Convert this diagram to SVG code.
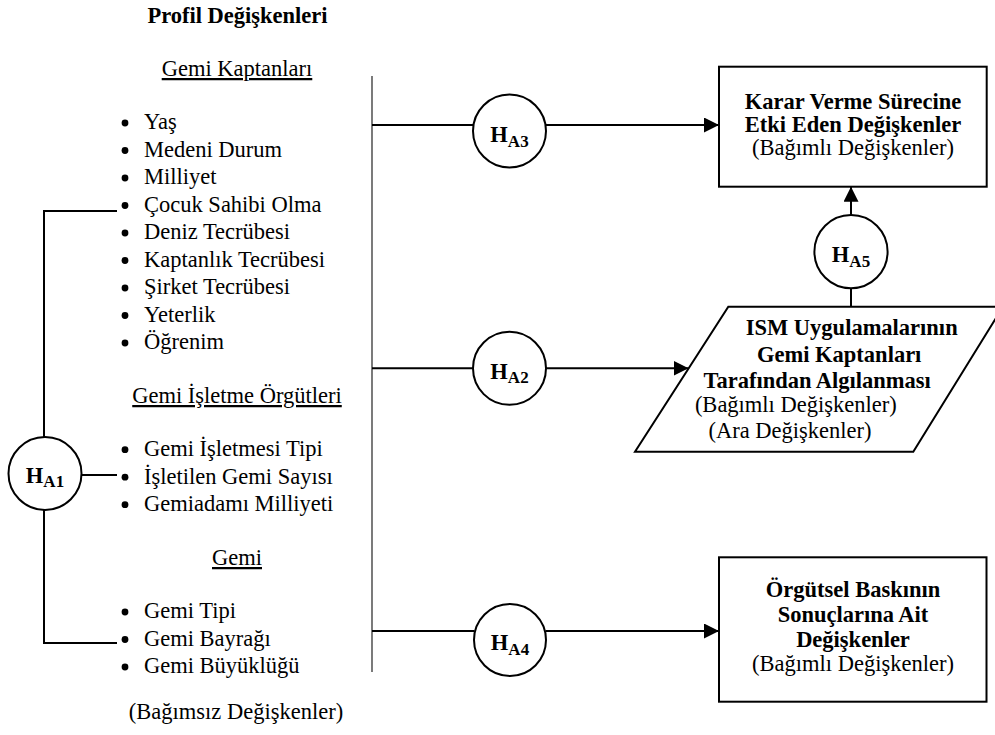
<svg xmlns="http://www.w3.org/2000/svg" width="995" height="735" viewBox="0 0 995 735">
  <style>
    text { font-family: "Liberation Serif", "Times New Roman", serif; font-size: 22.5px; fill: #000; }
    .b { font-weight: bold; }
    .c { text-anchor: middle; }
    .u { text-decoration: underline; }
    .sub { font-size: 17px; font-weight: bold; }
    .ln { stroke: #000; stroke-width: 2; fill: none; }
    .thin { stroke: #333; stroke-width: 1.3; fill: none; }
    .node { stroke: #000; stroke-width: 2; fill: #fff; }
    .dot { fill: #000; }
  </style>
  <defs>
    <marker id="arrow" markerUnits="userSpaceOnUse" markerWidth="16" markerHeight="16" refX="15" refY="7.5" orient="auto">
      <path d="M0,0 L15,7.5 L0,15 Z" fill="#000"/>
    </marker>
  </defs>

  <rect width="995" height="735" fill="#fff"/>

  <!-- independent (profile) variables -->
  <g id="profile">
    <text class="b c" x="237.5" y="23">Profil Değişkenleri</text>
    <text class="c u" x="237" y="76">Gemi Kaptanları</text>
    <g id="captain-items">
      <circle class="dot" cx="125" cy="123" r="3.4"/><text x="144" y="129.3">Yaş</text>
      <circle class="dot" cx="125" cy="150.5" r="3.4"/><text x="144" y="156.8">Medeni Durum</text>
      <circle class="dot" cx="125" cy="178" r="3.4"/><text x="144" y="184.3">Milliyet</text>
      <circle class="dot" cx="125" cy="205.5" r="3.4"/><text x="144" y="211.8">Çocuk Sahibi Olma</text>
      <circle class="dot" cx="125" cy="233" r="3.4"/><text x="144" y="239.3">Deniz Tecrübesi</text>
      <circle class="dot" cx="125" cy="260.5" r="3.4"/><text x="144" y="266.8">Kaptanlık Tecrübesi</text>
      <circle class="dot" cx="125" cy="288" r="3.4"/><text x="144" y="294.3">Şirket Tecrübesi</text>
      <circle class="dot" cx="125" cy="315.5" r="3.4"/><text x="144" y="321.8">Yeterlik</text>
      <circle class="dot" cx="125" cy="343" r="3.4"/><text x="144" y="349.3">Öğrenim</text>
    </g>
    <text class="c u" x="237" y="403">Gemi İşletme Örgütleri</text>
    <g id="operator-items">
      <circle class="dot" cx="125" cy="449.7" r="3.4"/><text x="144" y="456">Gemi İşletmesi Tipi</text>
      <circle class="dot" cx="125" cy="477.2" r="3.4"/><text x="144" y="483.5">İşletilen Gemi Sayısı</text>
      <circle class="dot" cx="125" cy="504.7" r="3.4"/><text x="144" y="511">Gemiadamı Milliyeti</text>
    </g>
    <text class="c u" x="237" y="565">Gemi</text>
    <g id="ship-items">
      <circle class="dot" cx="125" cy="612" r="3.4"/><text x="144" y="618.3">Gemi Tipi</text>
      <circle class="dot" cx="125" cy="639.5" r="3.4"/><text x="144" y="645.8">Gemi Bayrağı</text>
      <circle class="dot" cx="125" cy="667" r="3.4"/><text x="144" y="673.3">Gemi Büyüklüğü</text>
    </g>
    <text class="c" x="236" y="719">(Bağımsız Değişkenler)</text>
  </g>

  <!-- connectors -->
  <g id="connectors">
    <line class="thin" x1="372" y1="76" x2="372" y2="672"/>
    <!-- H_A1 bracket -->
    <polyline class="ln" points="117,211 44,211 44,437"/>
    <line class="ln" x1="81.5" y1="475" x2="117" y2="475"/>
    <polyline class="ln" points="44,510 44,643 117,643"/>
    <!-- H_A3 -->
    <line class="ln" x1="372" y1="125" x2="473.5" y2="125"/>
    <line class="ln" x1="545.5" y1="125" x2="719" y2="125" marker-end="url(#arrow)"/>
    <!-- H_A2 -->
    <line class="ln" x1="372" y1="368.3" x2="473" y2="368.3"/>
    <line class="ln" x1="546" y1="368.3" x2="688.5" y2="368.3" marker-end="url(#arrow)"/>
    <!-- H_A4 -->
    <line class="ln" x1="372" y1="631" x2="474.5" y2="631"/>
    <line class="ln" x1="545.5" y1="631" x2="719" y2="631" marker-end="url(#arrow)"/>
    <!-- H_A5 -->
    <line class="ln" x1="851" y1="215" x2="851" y2="186.7" marker-end="url(#arrow)"/>
    <line class="ln" x1="851" y1="288.3" x2="851" y2="306.7"/>
  </g>

  <!-- hypothesis nodes -->
  <g id="h-a1">
    <circle class="node" cx="45" cy="473.5" r="36.5"/>
    <text class="b c" x="45" y="482.5">H<tspan class="sub" dy="4.5">A1</tspan></text>
  </g>
  <g id="h-a3">
    <circle class="node" cx="509.5" cy="131" r="36.5"/>
    <text class="b c" x="509.5" y="141.5">H<tspan class="sub" dy="5">A3</tspan></text>
  </g>
  <g id="h-a2">
    <circle class="node" cx="509.5" cy="368.3" r="36.5"/>
    <text class="b c" x="509.5" y="378.5">H<tspan class="sub" dy="4.5">A2</tspan></text>
  </g>
  <g id="h-a4">
    <circle class="node" cx="510" cy="640" r="36"/>
    <text class="b c" x="510" y="650">H<tspan class="sub" dy="4.5">A4</tspan></text>
  </g>
  <g id="h-a5">
    <circle class="node" cx="851" cy="251.7" r="36.6"/>
    <text class="b c" x="851" y="262">H<tspan class="sub" dy="4.5">A5</tspan></text>
  </g>

  <!-- dependent variable boxes -->
  <g id="decision-box">
    <rect class="node" x="719" y="66.7" width="267.7" height="120"/>
    <text class="b c" x="853" y="109">Karar Verme Sürecine</text>
    <text class="b c" x="853" y="132">Etki Eden Değişkenler</text>
    <text class="c" x="853" y="155">(Bağımlı Değişkenler)</text>
  </g>
  <g id="ism-perception">
    <polygon class="node" points="728.3,306.7 1003,306.7 913.3,451.7 635,451.7"/>
    <text class="b c" x="851.7" y="335">ISM Uygulamalarının</text>
    <text class="b c" x="839.2" y="361.7">Gemi Kaptanları</text>
    <text class="b c" x="817.2" y="388.3">Tarafından Algılanması</text>
    <text class="c" x="795.8" y="411.7">(Bağımlı Değişkenler)</text>
    <text class="c" x="790" y="438.3">(Ara Değişkenler)</text>
  </g>
  <g id="pressure-box">
    <rect class="node" x="719" y="557.3" width="267.5" height="144.4"/>
    <text class="b c" x="853" y="596.7">Örgütsel Baskının</text>
    <text class="b c" x="853" y="621.7">Sonuçlarına Ait</text>
    <text class="b c" x="853" y="647">Değişkenler</text>
    <text class="c" x="853" y="671">(Bağımlı Değişkenler)</text>
  </g>
</svg>
